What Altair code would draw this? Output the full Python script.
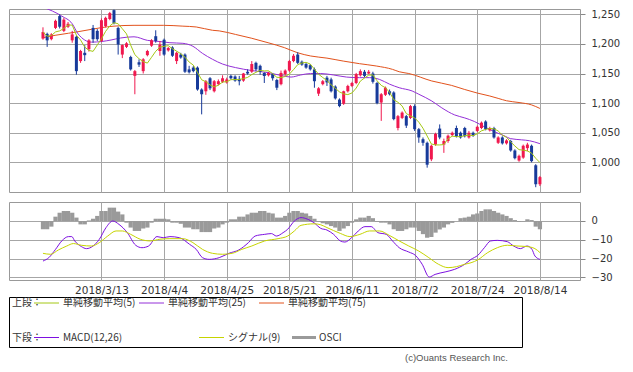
import altair as alt
import pandas as pd

# ---------------- data ----------------
# trading-day index 0..119 (2018/2/21 .. 2018/8/14)
opens = [1209,1217,1208,1227,1247,1222,1229,1206,1212,1171,
         1185,1191,1227,1222,1205,1230,1242,1257,1227,1182,
         1195,1178,1146,1169,1154,1181,1197,1213,1188,1207,
         1189,1194,1171,1182,1182,1157,1160,1160,1123,1120,
         1142,1120,1132,1136,1135,1146,1145,1141,1138,1153,
         1153,1168,1163,1151,1147,1149,1139,1132,1149,1155,
         1171,1182,1170,1166,1164,1157,1116,1132,1143,1140,
         1128,1106,1099,1120,1129,1134,1147,1153,1150,1150,
         1134,1101,1114,1120,1118,1058,1075,1078,1075,1095,
         1056,1039,1033,1005,1030,1057,1030,1036,1046,1058,
         1050,1058,1042,1050,1053,1058,1069,1054,1058,1033,
         1042,1032,1036,1020,1003,1008,1024,1028,995,963]
highs = [1228,1219,1218,1241,1250,1244,1237,1222,1214,1190,
         1198,1208,1232,1225,1243,1246,1254,1258,1229,1199,
         1203,1180,1156,1174,1176,1190,1208,1223,1205,1209,
         1195,1196,1187,1185,1184,1163,1163,1162,1125,1139,
         1144,1139,1140,1147,1143,1148,1147,1146,1151,1157,
         1171,1170,1165,1152,1153,1151,1141,1155,1157,1173,
         1183,1186,1172,1168,1166,1160,1127,1139,1146,1143,
         1130,1108,1121,1131,1136,1151,1157,1156,1156,1153,
         1136,1117,1128,1123,1120,1080,1086,1080,1097,1098,
         1058,1042,1035,1030,1050,1064,1040,1047,1052,1062,
         1052,1060,1053,1052,1062,1069,1071,1060,1060,1044,
         1044,1039,1038,1022,1013,1030,1033,1030,997,977]
lows = [1207,1195,1206,1225,1226,1220,1227,1202,1148,1168,
        1171,1187,1202,1205,1203,1228,1240,1233,1182,1176,
        1193,1155,1115,1161,1150,1179,1195,1202,1180,1180,
        1187,1178,1166,1175,1151,1150,1152,1121,1081,1114,
        1122,1118,1130,1134,1133,1140,1136,1130,1136,1148,
        1151,1154,1148,1134,1145,1138,1122,1130,1146,1153,
        1169,1166,1163,1158,1155,1126,1112,1130,1129,1118,
        1106,1093,1097,1118,1127,1132,1145,1144,1149,1133,
        1098,1070,1112,1113,1071,1054,1073,1058,1073,1053,
        1033,1028,991,1002,1028,1039,1016,1033,1044,1042,
        1040,1042,1040,1043,1051,1056,1054,1052,1040,1031,
        1030,1030,1018,1005,1001,1006,1019,1000,958,960]
closes = [1220,1206,1216,1239,1229,1241,1234,1216,1154,1188,
          1181,1206,1208,1208,1240,1244,1252,1235,1199,1198,
          1201,1157,1154,1165,1174,1188,1206,1205,1199,1182,
          1193,1180,1185,1177,1153,1152,1154,1123,1115,1137,
          1125,1137,1137,1142,1140,1142,1138,1137,1150,1150,
          1166,1157,1153,1146,1151,1142,1126,1151,1155,1171,
          1180,1168,1165,1160,1157,1137,1125,1137,1135,1120,
          1108,1095,1120,1129,1134,1149,1154,1146,1153,1136,
          1100,1115,1126,1115,1073,1078,1084,1062,1095,1056,
          1042,1033,996,1028,1048,1042,1036,1045,1050,1044,
          1042,1044,1050,1045,1060,1067,1056,1058,1042,1042,
          1032,1037,1020,1007,1011,1028,1030,1002,963,975]

# moving averages (day index, value)
ma25_i = [0,4.5,7,8.4,11.6,14,16.3,18.6,21.8,25,28,30.4,33.5,35.9,38.2,40.6,43,46.1,50,53.9,
          57.5,59.4,61.7,64.1,66.5,69.6,72.7,75.8,78.2,80.6,83,85.3,88.4,90,93.1,95.5,98.6,101,
          103.3,105.7,108,110.4,112,114.6,116.5,119]
ma25_v = [1262,1247,1234,1217,1203,1204,1206.6,1210,1212,1206,1204,1202,1201,1196,1184,1174,1166,1160,1155,1151.5,
          1146,1144,1147.5,1150,1150,1147.5,1144,1143,1143,1140,1132,1126,1120.5,1115,1103.6,1092,1080,1075,
          1069,1060,1052,1045,1040,1038,1036.5,1031.5]
ma75_i = [0,2.9,6.1,8.4,11.6,13.9,17,21.8,28.8,33.5,36.7,40.6,42.2,46.1,50,53.9,57.8,61,64.1,68,
          71.9,75.8,79.8,83.7,85.3,87.6,93.1,97.8,101,104,107,109,111,114,117,119]
ma75_v = [1210.5,1214.5,1218,1220.6,1224.6,1227.4,1230,1231.4,1231.4,1230,1228.6,1223,1222,1216,1209.5,1202,1193.7,1185,1179.6,1176,
          1171,1166.6,1162.7,1157,1153,1150,1137.4,1130,1123,1117,1112,1108,1104,1101,1097,1091]

macd_i = [0,1.4,3,4.5,6.1,6.9,7.6,9.2,10.4,12,13.5,15.1,16.7,18.2,20.2,22.2,23.7,25.3,27.3,28.8,
          30.4,32.7,35.1,36.7,38.2,39.8,42.2,44.5,46.9,49.2,50.8,53.1,54.7,55.9,57.5,58.6,60.2,61.8,63.3,64.9,
          66.5,68,69.6,71.2,72.3,73.9,75.5,77.1,78.6,80.2,82.2,83.7,85.3,87.6,89.2,90.8,92.5,93.9,96.3,98.6,
          101,102.5,104.1,105.7,107.2,108.8,111.2,112.7,114.3,115.9,117.1,117.8,119]
macd_v = [-21.3,-19.5,-15.1,-10.6,-8.3,-8.3,-10.6,-13.6,-14.7,-13.3,-9.7,-3.5,0,-1.8,-6.2,-12.9,-14.2,-13.3,-8.3,-8.9,
          -8.3,-8.9,-12.4,-15.1,-19.5,-20.4,-19.5,-17.2,-15.4,-11.5,-8,-7.1,-6.7,-8,-6.2,-4.4,0,1.8,1.0,-0.9,
          -3.9,-4.8,-7.1,-10.6,-11.2,-8.9,-5.3,-3,-3,-6.2,-7.1,-10.6,-14.2,-16.5,-18.3,-23,-29.8,-28.4,-27.1,-25.7,
          -23,-20.4,-18.3,-14.2,-10.6,-10.3,-11,-13.3,-14.7,-13.3,-15.1,-18.6,-20.4]
sig_i = [0,1.8,3.7,5.7,7.3,9.2,11.6,13.5,15.5,17.5,19,21,23.3,25.7,28,30.4,33.5,35.9,38.2,40.6,
         43,45.3,47.6,50,53.1,56.3,58.6,60.2,61.8,64.9,66.5,68,71.2,73.5,75.9,78.2,80.6,82.9,85.3,87.6,
         90,92.4,94.7,97,99,101,102.5,104.1,106.5,108.8,111.2,113.5,115.9,117.8,119]
sig_v = [-17.2,-17.7,-15.4,-13.3,-12,-12.9,-13.3,-11.5,-8,-5.3,-5.3,-7.1,-9.7,-10.6,-9.7,-9.4,-9.4,-11.5,-15.1,-17.2,
         -17.7,-17.2,-15.1,-13.3,-10.6,-9.4,-8,-5.3,-2.3,-1.5,-2,-3.5,-6.6,-8.3,-7.1,-5.3,-5.3,-7.6,-10.6,-13.3,
         -16,-19.5,-23,-24.8,-24.3,-23,-22.2,-20.7,-16.8,-14.2,-12.9,-13.3,-13.6,-14.7,-16.8]
osci = [-4.4,-4.4,-3.0,2.3,4.4,5.3,5.3,4.4,1.8,-1.8,
        -1.8,0.3,1.2,2.7,5.3,5.3,7.1,7.1,5.0,3.5,
        -0.9,-3.5,-5.3,-5.3,-4.0,-3.5,-0.9,1.2,1.2,1.2,
        0.9,-0.9,-0.9,-1.5,-3.5,-3.5,-4.4,-4.4,-5.9,-5.9,
        -5.9,-4.0,-3.5,-1.8,-0.9,0.9,0.9,2.3,2.3,3.5,
        4.4,4.4,5.3,5.3,4.4,4.0,1.8,1.8,2.7,4.4,
        5.3,5.3,4.4,4.0,2.7,1.2,-0.5,-1.2,-1.8,-2.7,
        -3.5,-5.3,-4.0,-2.7,-0.9,0.9,1.8,1.8,2.7,1.5,
        -0.5,-0.9,-0.9,-1.8,-4.4,-5.3,-5.3,-4.4,-3.5,-3.5,
        -5.3,-7.0,-8.9,-8.5,-6.2,-4.5,-3.5,-1.8,-1.0,0.0,
        1.5,1.8,2.3,3.5,4.0,5.3,6.2,6.2,5.3,4.4,
        3.5,2.7,1.5,0.5,-0.5,-0.3,0.9,0.5,-3.0,-4.4]

tick_idx = [14, 29, 44, 59, 74, 89, 104, 119]
tick_lbl = ["2018/3/13", "2018/4/4", "2018/4/25", "2018/5/21",
            "2018/6/11", "2018/7/2", "2018/7/24", "2018/8/14"]
price_ticks = [1000, 1050, 1100, 1150, 1200, 1250]
macd_ticks = [0, -10, -20, -30]

# ---------------- styles ----------------
UP = "#f0184e"
DN = "#173a9a"
C_MA5 = "#a4c814"
C_MA25 = "#9430d8"
C_MA75 = "#e2521c"
C_MACD = "#7d10e0"
C_SIG = "#c6d400"
C_OSC = "#9a9a9a"
GRID = "#a6a6a6"
AXFONT = "DejaVu Sans"
JPFONT = "Noto Sans CJK JP"

n = len(closes)
df = pd.DataFrame({"i": list(range(n)), "open": opens, "high": highs,
                   "low": lows, "close": closes, "osci": osci})

xscale = alt.Scale(domain=[-6.94, 127.4], nice=False, zero=False)
label_expr = " : ".join(f"datum.value == {v} ? '{t}'" for v, t in zip(tick_idx, tick_lbl)) + " : ''"

x_up = alt.X("i:Q", scale=xscale,
             axis=alt.Axis(values=tick_idx, labels=False, ticks=False, domain=False,
                           grid=True, title=None))
x_lo = alt.X("i:Q", scale=xscale,
             axis=alt.Axis(values=tick_idx, labelExpr=label_expr, ticks=False, domain=False,
                           grid=True, title=None, labelPadding=5, labelFontSize=10.5,
                           labelFont=AXFONT, labelColor="#333", labelFlush=False))

yscale_up = alt.Scale(domain=[949.9, 1258.95], nice=False, zero=False)
yax_up = alt.Axis(orient="right", values=price_ticks, format=",d", title=None,
                  tickSize=5, labelPadding=6, domain=False, grid=True,
                  labelFont=AXFONT, labelFontSize=10, labelColor="#333")

col = alt.condition("datum.close >= datum.open", alt.value(UP), alt.value(DN))

base = alt.Chart(df)
wicks = base.mark_rule(strokeWidth=1).encode(
    x=x_up, y=alt.Y("low:Q", scale=yscale_up, axis=yax_up), y2="high:Q", color=col)
bodies = base.mark_bar(size=3).encode(
    x=x_up, y=alt.Y("open:Q", scale=yscale_up, axis=yax_up), y2="close:Q", color=col)
ma5 = base.transform_window(
    ma5="mean(close)", frame=[-4, 0], sort=[alt.SortField("i")]
).mark_line(color=C_MA5, strokeWidth=1, clip=True).encode(
    x=x_up, y=alt.Y("ma5:Q", scale=yscale_up, axis=yax_up))
ma25 = alt.Chart(pd.DataFrame({"i": ma25_i, "v": ma25_v})).mark_line(
    color=C_MA25, strokeWidth=1, interpolate="monotone", clip=True).encode(
    x=x_up, y=alt.Y("v:Q", scale=yscale_up, axis=yax_up))
ma75 = alt.Chart(pd.DataFrame({"i": ma75_i, "v": ma75_v})).mark_line(
    color=C_MA75, strokeWidth=1, interpolate="monotone", clip=True).encode(
    x=x_up, y=alt.Y("v:Q", scale=yscale_up, axis=yax_up))

upper = alt.layer(ma75, ma25, wicks, bodies, ma5).properties(width=571, height=183)

# ---------------- lower panel ----------------
yscale_lo = alt.Scale(domain=[-31.38, 10.1], nice=False, zero=False)
yax_lo = alt.Axis(orient="right", values=macd_ticks, format="d", title=None,
                  tickSize=5, labelPadding=6, domain=False, grid=True,
                  labelFont=AXFONT, labelFontSize=10, labelColor="#333")

osc = base.mark_bar(size=4.25, color=C_OSC).encode(
    x=x_lo, y=alt.Y("osci:Q", scale=yscale_lo, axis=yax_lo), y2=alt.datum(0))
macd = alt.Chart(pd.DataFrame({"i": macd_i, "v": macd_v})).mark_line(
    color=C_MACD, strokeWidth=1, interpolate="monotone").encode(
    x=x_lo, y=alt.Y("v:Q", scale=yscale_lo, axis=yax_lo))
sig = alt.Chart(pd.DataFrame({"i": sig_i, "v": sig_v})).mark_line(
    color=C_SIG, strokeWidth=1, interpolate="monotone").encode(
    x=x_lo, y=alt.Y("v:Q", scale=yscale_lo, axis=yax_lo))

one = alt.Data(values=[{"k": 0}])


def txt(s, x, y, font=JPFONT, size=10, align="left", color="#333"):
    return alt.Chart(one).mark_text(text=s, align=align, baseline="middle", font=font,
                                    fontSize=size, color=color).encode(
        x=alt.value(x), y=alt.value(y))


def seg(color, x1, x2, y, w=1):
    return alt.Chart(one).mark_rule(color=color, strokeWidth=w).encode(
        x=alt.value(x1), x2=alt.value(x2), y=alt.value(y))


box = alt.Chart(one).mark_rect(fillOpacity=0, stroke="#000", strokeWidth=1).encode(
    x=alt.value(0.5), x2=alt.value(513.5), y=alt.value(95.5), y2=alt.value(145.5))

r1, r2 = 101, 135.5
legend_layers = [
    box,
    txt("上段：", 3, r1), seg(C_MA5, 25, 50, r1), txt("単純移動平均(5)", 54, r1),
    seg(C_MA25, 130, 155, r1), txt("単純移動平均(25)", 159, r1),
    seg(C_MA75, 250, 275, r1), txt("単純移動平均(75)", 279, r1),
    txt("下段：", 3, r2), seg(C_MACD, 25, 50, r2), txt("MACD(12,26)", 54, r2),
    seg(C_SIG, 190, 215, r2), txt("シグナル(9)", 219, r2),
    seg(C_OSC, 283, 307, r2, 3), txt("OSCI", 310, r2),
    txt("(c)Ouants Research Inc.", 499, 156, font="Liberation Sans", size=9.5,
        align="right", color="#555"),
]

lower = alt.layer(osc, macd, sig, *legend_layers).properties(width=571, height=78)

chart = alt.vconcat(upper, lower, spacing=10, bounds="flush", padding=0).configure_view(
    stroke="#999", strokeWidth=1
).configure_axis(gridColor=GRID, gridWidth=1, tickColor="#888")

chart.save("out.html", embed_options={"renderer": "svg", "actions": False})
